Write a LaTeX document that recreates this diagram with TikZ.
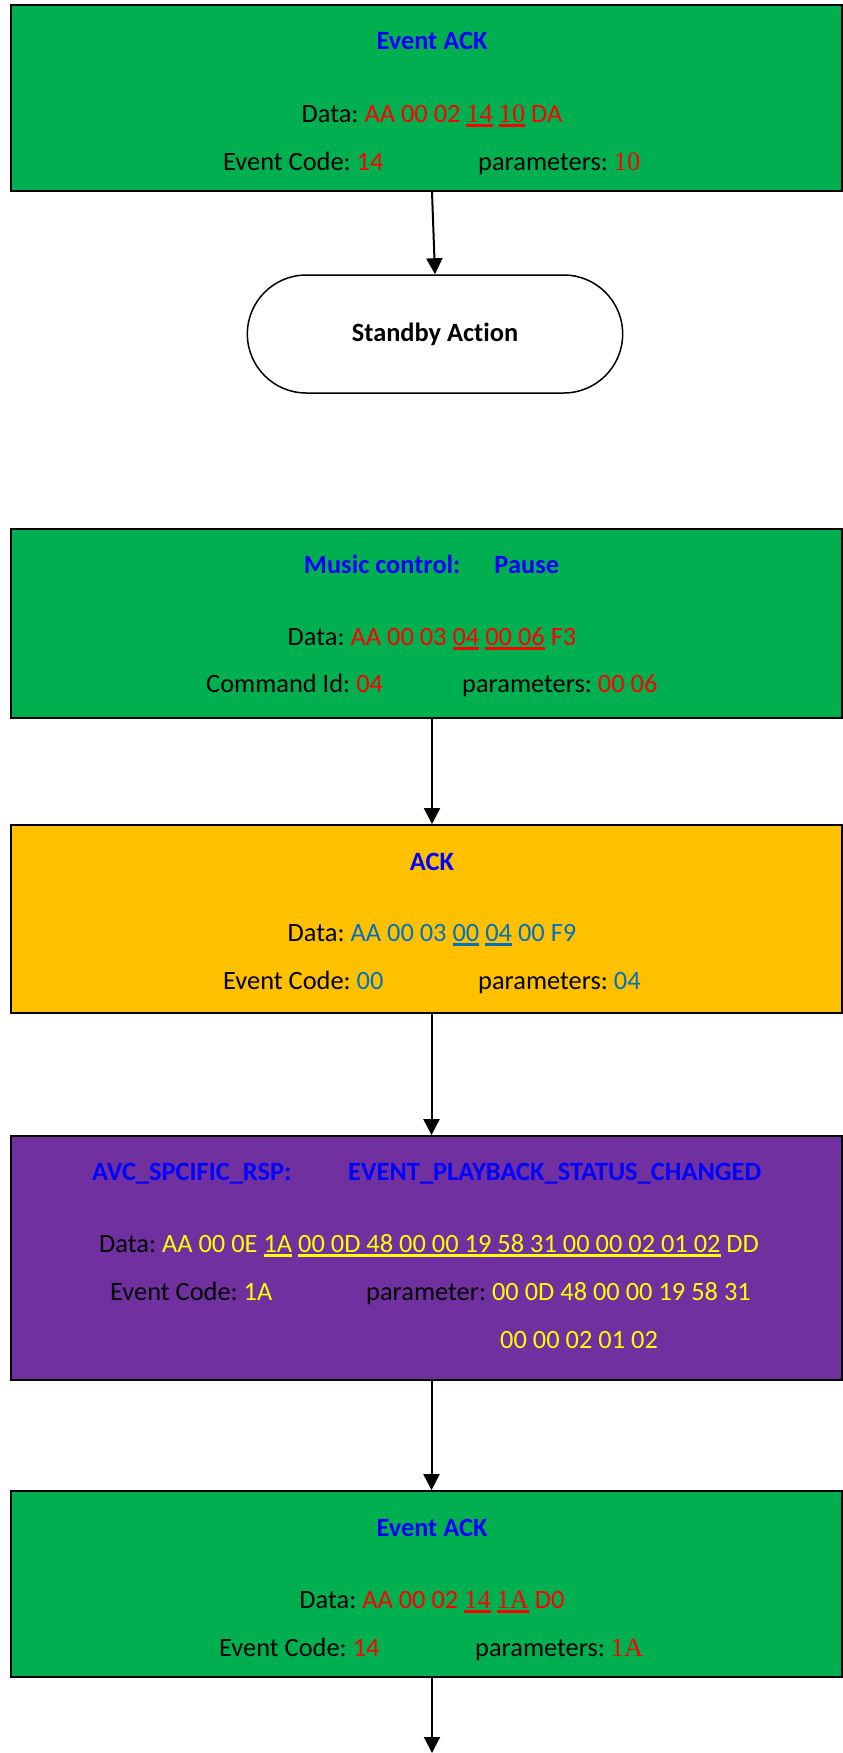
\documentclass[tikz,border=0pt]{standalone}
\usepackage{fontspec}
\setmainfont{Carlito}[Ligatures=NoCommon]
\newfontfamily\tnr{Liberation Serif}
\usepackage{tikz}
\usetikzlibrary{arrows.meta, positioning, shapes.misc}
\definecolor{evgreen}   {HTML}{00B050}
\definecolor{ackorange} {HTML}{FFC000}
\definecolor{rsppurple} {HTML}{7030A0}
\definecolor{titleblue} {HTML}{0000FF}
\definecolor{hexred}    {HTML}{FF0000}
\definecolor{hexblue}   {HTML}{0070C0}
\definecolor{hexyellow} {HTML}{FFFF00}
\newsavebox{\hulbox}
\newcommand{\hul}[1]{\sbox{\hulbox}{#1}%
  \rlap{\rule[-4.5pt]{\wd\hulbox}{2.5pt}}\usebox{\hulbox}}
\newcommand{\hexr}[1]{{\color{hexred}#1}}
\newcommand{\hexb}[1]{{\color{hexblue}#1}}
\newcommand{\hexy}[1]{{\color{hexyellow}#1}}
\newcommand{\serul}[1]{\hul{\tnr #1}}
\frenchspacing

\begin{document}
\begin{tikzpicture}[
    x=1pt, y=-1pt,
    msgbox/.style={draw=black, line width=1.8pt, minimum width=831pt,
                   inner sep=0pt},
    txt/.style={font=\fontsize{26.4}{31}\selectfont, inner sep=0pt},
    head/.style={font=\fontsize{26.4}{31}\selectfont\bfseries,
                 text=titleblue, inner sep=0pt},
    endbox/.style={rounded rectangle, draw, line width=1.5pt, fill=white,
                   minimum width=382pt, minimum height=118pt,
                   font=\fontsize{26.4}{31}\selectfont\bfseries},
    arr/.style={-{Triangle[length=16pt, width=16pt]}, line width=2pt},
  ]
    \path[use as bounding box, fill=white] (0,0) rectangle (843,1753);

    % Event ACK -> standby
    \node[msgbox, fill=evgreen, minimum height=186pt] (evack) at (426.5,98) {};
    \node[head, anchor=base] (evacktitle) at (432,50) {Event ACK};
    \node[txt, anchor=base] (evackdata) at (432,122)
      {Data: \hexr{AA 00 02 \serul{14} \serul{10} DA}};
    \node[txt, anchor=base west] (evackcode) at (223,170)
      {Event Code: \hexr{14}};
    \node[txt, anchor=base west] (evackpar) at (478,170)
      {parameters: \hexr{\tnr 10}};

    \node[endbox] (standby) at (435,334) {Standby Action};

    % Music control: Pause
    \node[msgbox, fill=evgreen, minimum height=189pt] (pause) at (426.5,623.5) {};
    \node[head, anchor=base] (pausetitle) at (431.5,573)
      {Music control:\hspace{34pt}Pause};
    \node[txt, anchor=base] (pausedata) at (432,645)
      {Data: \hexr{AA 00 03 \hul{04} \hul{00 06} F3}};
    \node[txt, anchor=base west] (pausecmd) at (206,692)
      {Command Id: \hexr{04}};
    \node[txt, anchor=base west] (pausepar) at (462,692)
      {parameters: \hexr{00 06}};

    % ACK
    \node[msgbox, fill=ackorange, minimum height=188pt] (ack) at (426.5,919) {};
    \node[head, anchor=base] (acktitle) at (432,870) {ACK};
    \node[txt, anchor=base] (ackdata) at (432,941)
      {Data: \hexb{AA 00 03 \hul{00} \hul{04} 00 F9}};
    \node[txt, anchor=base west] (ackcode) at (223,989)
      {Event Code: \hexb{00}};
    \node[txt, anchor=base west] (ackpar) at (478,989)
      {parameters: \hexb{04}};

    % AVC specific response
    \node[msgbox, fill=rsppurple, minimum height=244pt] (avcrsp) at (426.5,1258) {};
    \node[head, anchor=base west] (avcrsptitle) at (92,1180)
      {AVC\_SPCIFIC\_RSP:};
    \node[head, anchor=base west] (avcrspevent) at (348,1180)
      {EVENT\_PLAYBACK\_STATUS\_CHANGED};
    \node[txt, anchor=base west] (avcrspdata) at (99,1252)
      {Data: \hexy{AA 00 0E \hul{1A} \hul{00 0D 48 00 00 19 58 31 00 00 02 01 02} DD}};
    \node[txt, anchor=base west] (avcrspcode) at (110,1300)
      {Event Code: \hexy{1A}};
    \node[txt, anchor=base west] (avcrsppar) at (366,1300)
      {parameter: \hexy{00 0D 48 00 00 19 58 31}};
    \node[txt, anchor=base west] (avcrsppartwo) at (500,1348)
      {\hexy{00 00 02 01 02}};

    % Event ACK (second)
    \node[msgbox, fill=evgreen, minimum height=186pt] (evackb) at (426.5,1584) {};
    \node[head, anchor=base] (evackbtitle) at (432,1536) {Event ACK};
    \node[txt, anchor=base] (evackbdata) at (432,1608)
      {Data: \hexr{AA 00 02 \serul{14} \serul{1A} D0}};
    \node[txt, anchor=base west] (evackbcode) at (219,1656)
      {Event Code: \hexr{14}};
    \node[txt, anchor=base west] (evackbpar) at (475,1656)
      {parameters: \hexr{\tnr 1A}};

    \coordinate (exit) at (432,1753);

    \draw[arr] ([xshift=5.5pt]evack.south)  -- (standby.north);
    \draw[arr] ([xshift=5.5pt]pause.south)  -- ([xshift=5.5pt]ack.north);
    \draw[arr] ([xshift=5pt]ack.south)      -- ([xshift=5pt]avcrsp.north);
    \draw[arr] ([xshift=5pt]avcrsp.south)   -- ([xshift=5pt]evackb.north);
    \draw[arr] ([xshift=5.5pt]evackb.south) -- (exit);
  \end{tikzpicture}
\end{document}
